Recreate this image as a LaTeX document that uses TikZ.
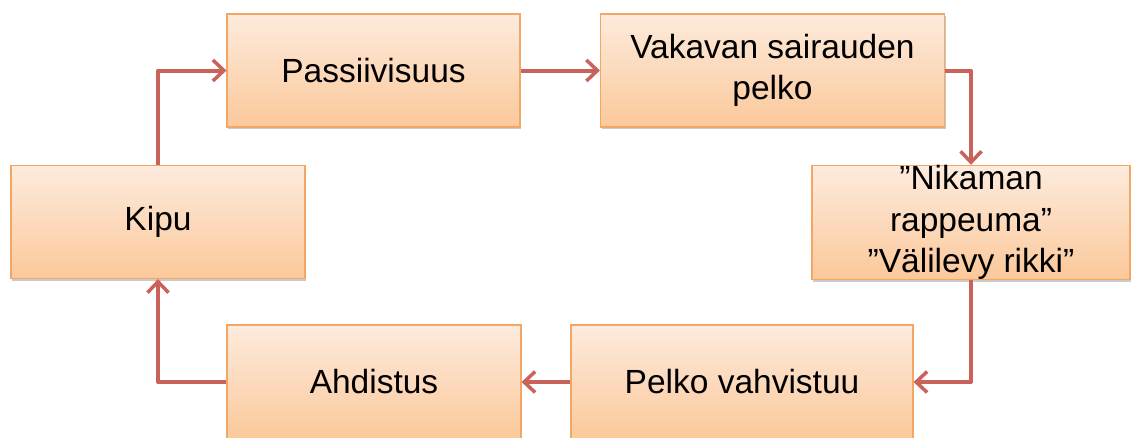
\documentclass[tikz,border=0pt]{standalone}
\usepackage{fontspec}
\setmainfont{Liberation Sans}
\usetikzlibrary{arrows.meta,shadows}
\definecolor{boxtop}{HTML}{FDEBDD}
\definecolor{boxbot}{HTML}{FBC89A}
\definecolor{boxline}{HTML}{F2A766}
\definecolor{flow}{HTML}{C8625A}
\begin{document}
\begin{tikzpicture}[x=1pt,y=-1pt,
  stagebox/.style={rectangle, draw=boxline, line width=1.2pt,
    top color=boxtop, bottom color=boxbot, inner sep=0pt,
    align=center, font=\fontsize{33.5}{41.5}\selectfont,
    drop shadow={shadow xshift=1pt, shadow yshift=-2pt, opacity=0.35, fill=black!60}},
  flowline/.style={draw=flow, line width=4pt, line join=round,
    -{Straight Barb[length=11pt,width=21pt,line width=3.5pt]}}]
  \useasboundingbox (0,0) rectangle (1131,437);
  \node[stagebox, minimum width=293pt, minimum height=113pt] (pass) at (373.5,70.5) {Passiivisuus};
  \node[stagebox, minimum width=344pt, minimum height=113pt] (vak) at (772.5,70.5) {Vakavan sairauden\\pelko};
  \node[stagebox, minimum width=318pt, minimum height=113pt] (nik) at (971,222.5) {”Nikaman\\rappeuma”\\”Välilevy rikki”};
  \node[stagebox, minimum width=294pt, minimum height=113pt] (kipu) at (158,222) {Kipu};
  \node[stagebox, minimum width=294pt, minimum height=114pt] (ahd) at (374,382) {Ahdistus};
  \node[stagebox, minimum width=342pt, minimum height=114pt] (pel) at (742,382) {Pelko vahvistuu};
  \draw[flowline] (kipu.north) |- (pass.west);
  \draw[flowline] (pass.east) -- (vak.west);
  \draw[flowline] (vak.east) -| (nik.north);
  \draw[flowline] (nik.south) |- (pel.east);
  \draw[flowline] (pel.west) -- (ahd.east);
  \draw[flowline] (ahd.west) -| (kipu.south);
\end{tikzpicture}
\end{document}
